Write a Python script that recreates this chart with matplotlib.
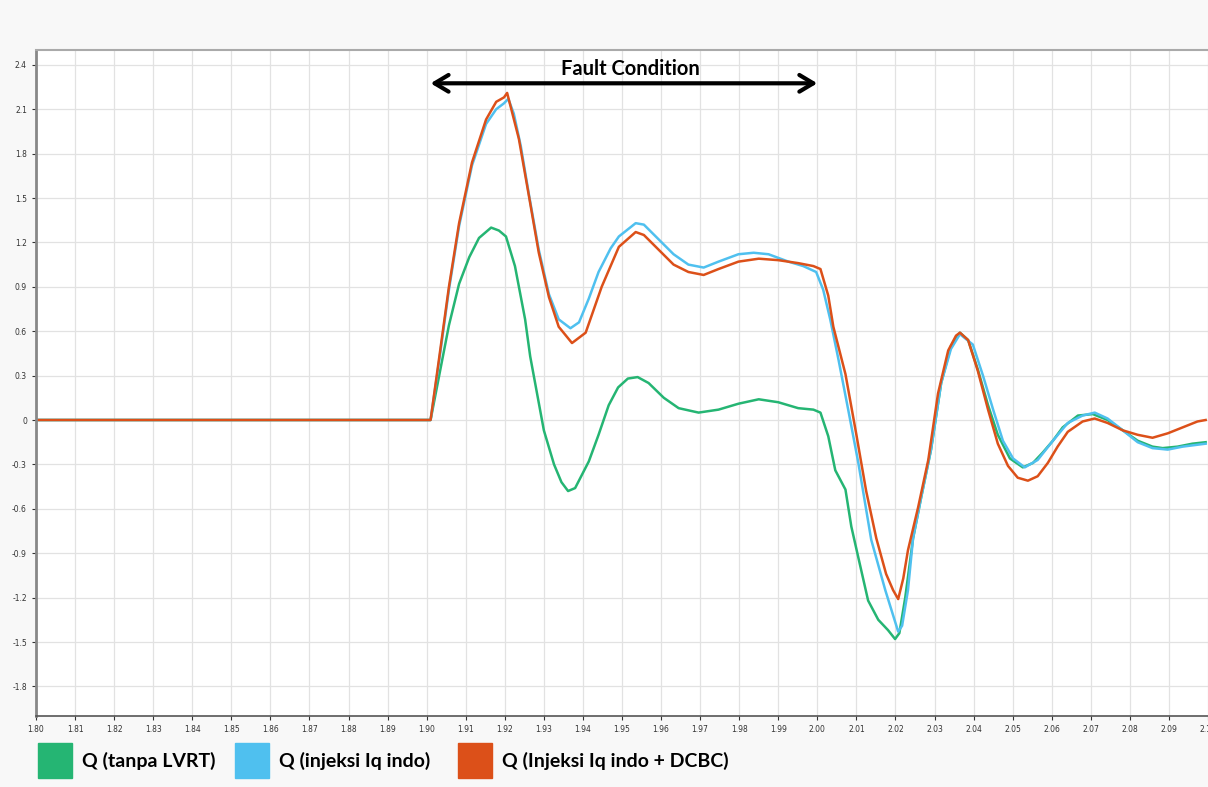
import matplotlib.pyplot as plt
import matplotlib.patches as mpatches
import numpy as np

# data (time in s, Q in pu)
t_green = [1.80, 1.85, 1.89, 1.901, 1.9032, 1.9057, 1.9083, 1.9109, 1.9134, 1.9165, 1.9185, 1.9203, 1.9226,
           1.9252, 1.9265, 1.930, 1.9326, 1.9345, 1.9362, 1.938, 1.9415, 1.944, 1.9466, 1.949, 1.9515, 1.954, 1.9568,
           1.9607, 1.9645, 1.9696, 1.9747, 1.9798, 1.985, 1.990, 1.9951, 1.999, 2.0008, 2.0028, 2.0046,
           2.0072, 2.0087, 2.0105, 2.0130, 2.0156, 2.0181, 2.0199, 2.021, 2.0225, 2.0245, 2.0266,
           2.0291, 2.0317, 2.0342, 2.0365, 2.0386, 2.0411, 2.0437, 2.0462, 2.0493, 2.0526, 2.0552, 2.0577,
           2.0603, 2.0628, 2.0667, 2.0705, 2.0743, 2.0782, 2.082, 2.0858, 2.0884, 2.0922, 2.096, 2.0994]
q_green = [0.0, 0.0, 0.0, 0.0, 0.30, 0.64, 0.92, 1.10, 1.23, 1.30, 1.28, 1.24, 1.04,
           0.68, 0.43, -0.07, -0.30, -0.42, -0.48, -0.46, -0.28, -0.10, 0.10, 0.22, 0.28, 0.29, 0.25,
           0.15, 0.08, 0.05, 0.07, 0.11, 0.14, 0.12, 0.08, 0.07, 0.05, -0.11, -0.34,
           -0.47, -0.72, -0.93, -1.22, -1.35, -1.42, -1.48, -1.44, -1.20, -0.80, -0.52,
           -0.20, 0.25, 0.50, 0.59, 0.54, 0.34, 0.10, -0.10, -0.26, -0.32, -0.29, -0.22,
           -0.14, -0.05, 0.03, 0.04, 0.0, -0.07, -0.14, -0.18, -0.19, -0.18, -0.16, -0.15]

t_blue = [1.80, 1.85, 1.89, 1.901, 1.9032, 1.9057, 1.9083, 1.9116, 1.9152, 1.9178, 1.9198, 1.9209, 1.9223,
          1.9241, 1.9262, 1.9287, 1.9313, 1.9338, 1.9368, 1.939, 1.9415, 1.944, 1.9471, 1.9492, 1.9535,
          1.9556, 1.9594, 1.9632, 1.967, 1.9709, 1.9747, 1.9798, 1.9837, 1.9875, 1.9926, 1.9964, 1.9997,
          2.0015, 2.0033, 2.0054, 2.0079, 2.0105, 2.0138, 2.0174, 2.0194, 2.0207, 2.0217, 2.0232,
          2.0245, 2.0266, 2.0291, 2.0317, 2.0342, 2.0365, 2.0398, 2.0424, 2.045, 2.0475, 2.0501, 2.0531,
          2.0564, 2.0603, 2.0641, 2.0679, 2.071, 2.0743, 2.0782, 2.082, 2.0858, 2.0897, 2.0935, 2.0994]
q_blue = [0.0, 0.0, 0.0, 0.0, 0.40, 0.88, 1.31, 1.72, 2.00, 2.10, 2.14, 2.17, 2.07,
          1.85, 1.52, 1.15, 0.85, 0.68, 0.62, 0.66, 0.82, 1.00, 1.16, 1.24, 1.33,
          1.32, 1.22, 1.12, 1.05, 1.03, 1.07, 1.12, 1.13, 1.12, 1.07, 1.04, 1.00,
          0.88, 0.68, 0.41, 0.07, -0.29, -0.81, -1.15, -1.32, -1.43, -1.39, -1.15,
          -0.80, -0.52, -0.20, 0.25, 0.48, 0.58, 0.51, 0.30, 0.07, -0.14, -0.26, -0.32,
          -0.27, -0.14, -0.02, 0.03, 0.05, 0.01, -0.07, -0.15, -0.19, -0.20, -0.18, -0.16]

t_orange = [1.80, 1.85, 1.89, 1.901, 1.9032, 1.9057, 1.9083, 1.9116, 1.9152, 1.9178, 1.9198, 1.9206,
            1.9236, 1.9262, 1.9287, 1.9313, 1.9338, 1.9372, 1.9407, 1.9448, 1.9492, 1.9535,
            1.9556, 1.9594, 1.9632, 1.967, 1.9709, 1.9747, 1.9798, 1.985, 1.990, 1.9951, 1.999,
            2.0008, 2.0028, 2.0041, 2.0072, 2.010, 2.0125, 2.0151, 2.0176, 2.0194, 2.0207, 2.0220, 2.0232,
            2.0258, 2.0284, 2.0309, 2.0335, 2.0355, 2.0365, 2.0386, 2.0411, 2.0437, 2.0462, 2.0488, 2.0513,
            2.0539, 2.0564, 2.059, 2.0615, 2.0641, 2.0679, 2.071, 2.0743, 2.0782, 2.082, 2.0858, 2.0897,
            2.0935, 2.0973, 2.0994]
q_orange = [0.0, 0.0, 0.0, 0.0, 0.42, 0.90, 1.33, 1.74, 2.03, 2.15, 2.18, 2.21,
            1.90, 1.51, 1.13, 0.83, 0.63, 0.52, 0.59, 0.90, 1.17, 1.27,
            1.25, 1.15, 1.05, 1.00, 0.98, 1.02, 1.07, 1.09, 1.08, 1.06, 1.04,
            1.02, 0.84, 0.63, 0.31, -0.10, -0.48, -0.80, -1.04, -1.15, -1.21, -1.07, -0.88,
            -0.59, -0.27, 0.18, 0.47, 0.57, 0.59, 0.54, 0.33, 0.07, -0.16, -0.31, -0.39,
            -0.41, -0.38, -0.29, -0.18, -0.08, -0.01, 0.01, -0.02, -0.07, -0.10, -0.12, -0.09,
            -0.05, -0.01, 0.0]

labels = ['Q (tanpa LVRT)', 'Q (injeksi Iq indo)', 'Q (Injeksi Iq indo + DCBC)']
colors = ['#25b573', '#4fc0ef', '#dc5019']

x_ticks = np.round(np.arange(1.80, 2.105, 0.01), 2)
y_ticks = np.round(np.arange(-1.8, 2.45, 0.3), 1)

W, H = 1208, 787
fig = plt.figure(figsize=(W / 100, H / 100), dpi=100, facecolor='#f8f8f8')
ax = fig.add_axes([36 / W, 1 - 716 / H, 1 - 36 / W, (716 - 50) / H])
ax.set_facecolor('white')

ax.plot(t_green, q_green, color=colors[0], lw=1.8)
ax.plot(t_blue, q_blue, color=colors[1], lw=1.8)
ax.plot(t_orange, q_orange, color=colors[2], lw=1.8)

ax.set_xlim(1.80, 2.0995)
ax.set_ylim(-2.0, 2.5)
ax.set_xticks(x_ticks)
ax.set_xticklabels(['%.2f' % v for v in x_ticks])
ax.set_yticks(y_ticks)
ax.set_yticklabels(['0' if v == 0 else '%g' % v for v in y_ticks])
ax.tick_params(labelsize=5.5, colors='#333333', length=3, width=0.8)
ax.grid(True, color='#e2e2e2', lw=0.9)
ax.set_axisbelow(True)

ax.spines['left'].set_color('#888888')
ax.spines['left'].set_linewidth(2)
ax.spines['bottom'].set_color('#555555')
ax.spines['bottom'].set_linewidth(1.2)
ax.spines['top'].set_color('#aaaaaa')
ax.spines['top'].set_linewidth(1.5)
ax.spines['right'].set_visible(False)

# fault window
ax.annotate('', xy=(1.9003, 2.275), xytext=(2.0007, 2.275),
            arrowprops=dict(arrowstyle='<->,head_length=1.0,head_width=0.6', lw=3, color='black'))
ax.text(1.9522, 2.37, 'Fault Condition', ha='center', va='center',
        fontsize=14.5, fontweight='bold', family='Lato')

# legend under the plot
sq_x = [38, 235, 458]
for x0, c, l in zip(sq_x, colors, labels):
    fig.patches.append(mpatches.Rectangle((x0 / W, 1 - 778 / H), 34 / W, 35 / H,
                                          transform=fig.transFigure, color=c))
    fig.text((x0 + 44) / W, 1 - 761 / H, l, ha='left', va='center',
             fontsize=14, fontweight='bold', family='Lato')

fig.savefig('out.png', dpi=100, facecolor=fig.get_facecolor())
